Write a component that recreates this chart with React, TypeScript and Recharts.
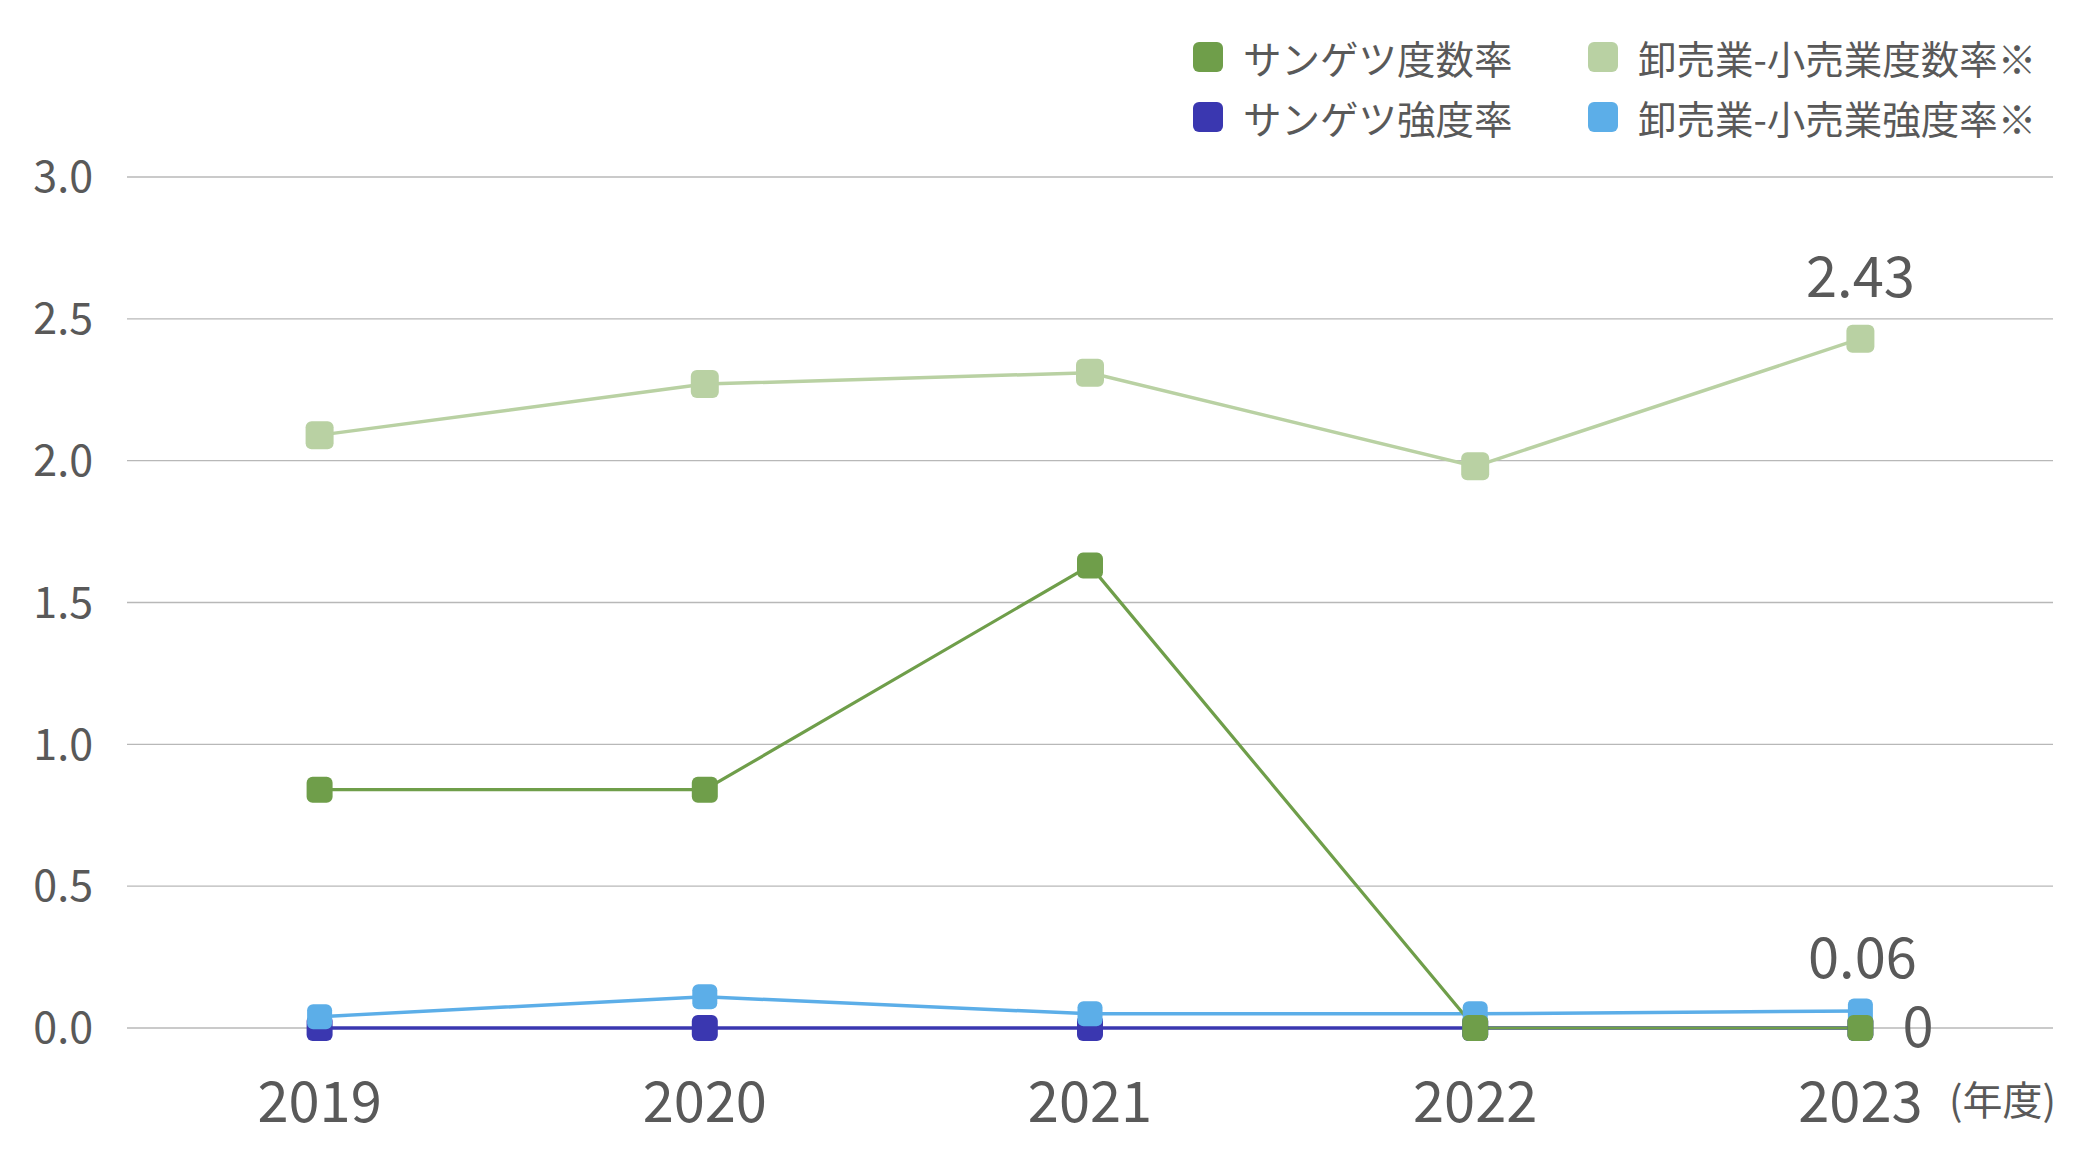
import { CartesianGrid, Legend, LabelList, Line, LineChart, XAxis, YAxis } from "recharts";

const years = ["2019", "2020", "2021", "2022", "2023"];
const sangetsuFrequency = [0.84, 0.84, 1.63, 0, 0];
const sangetsuSeverity = [0, 0, 0, 0, 0];
const industryFrequency = [2.09, 2.27, 2.31, 1.98, 2.43];
const industrySeverity = [0.04, 0.11, 0.05, 0.05, 0.06];
const yTicks = [0, 0.5, 1.0, 1.5, 2.0, 2.5, 3.0];

const TEXT = "#595959";
const FONT = '"Noto Sans CJK JP", "Noto Sans", sans-serif';

type SeriesDef = { key: string; name: string; color: string; width: number; marker: number };

const series: Record<string, SeriesDef> = {
  sangetsuFrequency: { key: "sangetsuFrequency", name: "サンゲツ度数率", color: "#6f9e4a", width: 3.2, marker: 26 },
  sangetsuSeverity: { key: "sangetsuSeverity", name: "サンゲツ強度率", color: "#3a37b0", width: 3.5, marker: 26 },
  industryFrequency: { key: "industryFrequency", name: "卸売業-小売業度数率※", color: "#b9d1a3", width: 3.5, marker: 28 },
  industrySeverity: { key: "industrySeverity", name: "卸売業-小売業強度率※", color: "#5caee8", width: 3.5, marker: 25 },
};

// legend is laid out column by column: left column is Sangetsu, right column the industry
const legendOrder = ["sangetsuFrequency", "industryFrequency", "sangetsuSeverity", "industrySeverity"];

const data = years.map((year, i) => ({
  year,
  sangetsuFrequency: sangetsuFrequency[i],
  sangetsuSeverity: sangetsuSeverity[i],
  industryFrequency: industryFrequency[i],
  industrySeverity: industrySeverity[i],
}));

function squareDot(size: number, color: string) {
  return (props: any) => {
    const { cx, cy, index } = props;
    if (cx == null || cy == null) return <g key={index} />;
    return (
      <rect
        key={index}
        x={cx - size / 2}
        y={cy - size / 2}
        width={size}
        height={size}
        rx={6}
        ry={6}
        fill={color}
      />
    );
  };
}

function lastPointLabel(dx: number, dy: number, anchor: "start" | "middle") {
  return (props: any) => {
    const { x, y, value, index } = props;
    if (index !== years.length - 1) return null;
    return (
      <text x={x + dx} y={y + dy} textAnchor={anchor} fill={TEXT} fontSize={56} fontFamily={FONT}>
        {String(value)}
      </text>
    );
  };
}

function LegendBlock() {
  return (
    <div
      style={{
        display: "grid",
        gridTemplateColumns: "395px 475px",
        fontFamily: FONT,
        fontSize: 38.5,
        color: TEXT,
      }}
    >
      {legendOrder.map((k) => (
        <div key={k} style={{ display: "flex", alignItems: "center", height: 60 }}>
          <span
            style={{
              display: "inline-block",
              width: 30,
              height: 30,
              borderRadius: 6,
              background: series[k].color,
              marginRight: 20,
            }}
          />
          <span style={{ whiteSpace: "nowrap" }}>{series[k].name}</span>
        </div>
      ))}
    </div>
  );
}

function renderLine(k: string, label?: any) {
  const s = series[k];
  return (
    <Line
      key={k}
      type="linear"
      dataKey={s.key}
      name={s.name}
      stroke={s.color}
      strokeWidth={s.width}
      dot={squareDot(s.marker, s.color)}
      activeDot={false}
      isAnimationActive={false}
    >
      {label ? <LabelList dataKey={s.key} content={label} /> : null}
    </Line>
  );
}

export default function App() {
  return (
    <div style={{ width: 2080, height: 1160, position: "relative", fontFamily: FONT, background: "#fff" }}>
      <style>{"body{margin:0}"}</style>
      <LineChart width={2080} height={1160} data={data} margin={{ top: 177, right: 27, bottom: 32, left: 27 }}>
        <CartesianGrid vertical={false} stroke="#b8b8b8" strokeWidth={1.3} />
        <XAxis
          dataKey="year"
          type="category"
          padding={{ left: 192.6, right: 192.6 }}
          axisLine={false}
          tickLine={false}
          tickSize={0}
          tickMargin={54}
          height={100}
          tick={{ fontSize: 56, fill: TEXT }}
          label={{
            content: (p: any) => {
              const vb = p.viewBox || { x: 127, y: 1028, width: 1926 };
              return (
                <text x={vb.x + vb.width - 104} y={vb.y + 87} fill={TEXT} fontSize={40} fontFamily={FONT}>
                  (年度)
                </text>
              );
            },
          }}
        />
        <YAxis
          domain={[0, 3]}
          ticks={yTicks}
          width={100}
          axisLine={false}
          tickLine={false}
          tickSize={0}
          tickMargin={34}
          tickFormatter={(v: number) => v.toFixed(1)}
          tick={{ fontSize: 43, fill: TEXT }}
        />
        <Legend
          layout="vertical"
          align="center"
          verticalAlign="middle"
          wrapperStyle={{ top: 27, left: 1193, width: 870 }}
          content={() => <LegendBlock />}
        />
        {renderLine("industryFrequency", lastPointLabel(0, -42, "middle"))}
        {renderLine("sangetsuSeverity")}
        {renderLine("industrySeverity", lastPointLabel(2, -33, "middle"))}
        {renderLine("sangetsuFrequency", lastPointLabel(42, 19, "start"))}
      </LineChart>
    </div>
  );
}
